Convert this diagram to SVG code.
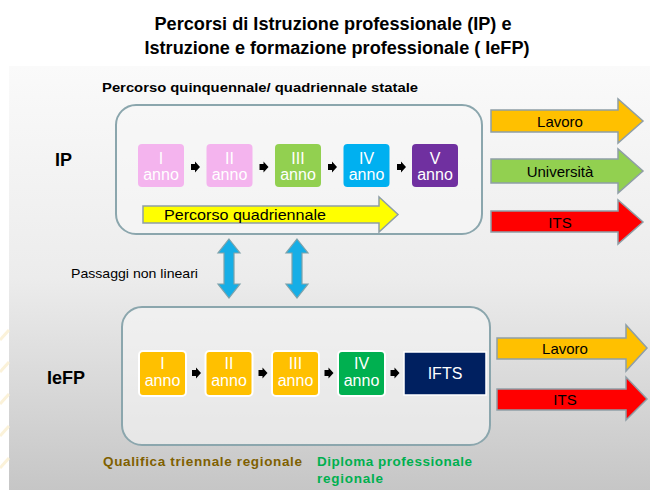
<svg xmlns="http://www.w3.org/2000/svg" width="658" height="490" viewBox="0 0 658 490">
<defs>
<linearGradient id="bg" x1="0" y1="0" x2="0" y2="1">
<stop offset="0" stop-color="#fafafa"/>
<stop offset="0.5" stop-color="#ececec"/>
<stop offset="1" stop-color="#c6c6c6"/>
</linearGradient>
<style>
.t{font-family:"Liberation Sans",Arial,sans-serif}
.b{font-weight:bold}
.yr{font-family:"Liberation Sans",Arial,sans-serif;font-size:16px;fill:#fff;text-anchor:middle}
.panel{fill:#f6f6f6;fill-opacity:0.6;stroke:#8ba6ad;stroke-width:2}
.out{stroke:#8f9ea6;stroke-width:1.5}
.lbl{font-family:"Liberation Sans",Arial,sans-serif;font-size:15px;fill:#000;text-anchor:middle}
.sm{fill:#000}
.dbl{fill:#16aee6;stroke:#7fa2aa;stroke-width:1.2}
</style>
</defs>
<rect x="0" y="0" width="658" height="490" fill="#fff"/>
<rect x="9" y="66" width="641" height="424" fill="url(#bg)"/>
<g stroke="#fbefd0" stroke-width="3" opacity="0.8">
<line x1="0" y1="340" x2="9" y2="330"/>
<line x1="0" y1="372" x2="9" y2="362"/>
<line x1="0" y1="404" x2="9" y2="394"/>
<line x1="0" y1="436" x2="9" y2="426"/>
<line x1="0" y1="468" x2="9" y2="458"/>
</g>

<g id="title">
<text class="t b" x="333" y="30" font-size="18" text-anchor="middle" textLength="357" lengthAdjust="spacingAndGlyphs">Percorsi di Istruzione professionale (IP) e</text>
<text class="t b" x="337" y="54" font-size="18" text-anchor="middle" textLength="385" lengthAdjust="spacingAndGlyphs">Istruzione e formazione professionale ( IeFP)</text>
</g>
<text id="subtitle" class="t b" x="102" y="92" font-size="13" textLength="316" lengthAdjust="spacingAndGlyphs">Percorso quinquennale/ quadriennale statale</text>

<g id="ip-panel">
<rect class="panel" x="116" y="105" width="366" height="129" rx="20"/>
</g>
<text id="ip-label" class="t b" x="55" y="166" font-size="18">IP</text>

<g id="ip-y1"><rect x="138" y="144" width="46" height="43" rx="4" fill="#f4b4ee"/><text class="yr" x="161" y="164">I</text><text class="yr" x="161" y="180">anno</text></g>
<g id="ip-y2"><rect x="206.5" y="144" width="46" height="43" rx="4" fill="#f4b4ee"/><text class="yr" x="229.5" y="164">II</text><text class="yr" x="229.5" y="180">anno</text></g>
<g id="ip-y3"><rect x="275" y="144" width="46" height="43" rx="4" fill="#92d050"/><text class="yr" x="298" y="164">III</text><text class="yr" x="298" y="180">anno</text></g>
<g id="ip-y4"><rect x="343.5" y="144" width="46" height="43" rx="4" fill="#00b0f0"/><text class="yr" x="366.5" y="164">IV</text><text class="yr" x="366.5" y="180">anno</text></g>
<g id="ip-y5"><rect x="412" y="144" width="46" height="43" rx="4" fill="#7030a0"/><text class="yr" x="435" y="164">V</text><text class="yr" x="435" y="180">anno</text></g>

<g id="quadriennale">
<path d="M143,206 H379 V197 L398,214.5 L379,232 V223 H143 Z" fill="#ffff00" class="out"/>
<text class="t" x="164" y="219.5" font-size="15" textLength="162" lengthAdjust="spacingAndGlyphs">Percorso quadriennale</text>
</g>

<g id="ip-lavoro"><path d="M491,110 H618 V99 L643,121 L618,143 V132 H491 Z" fill="#ffc000" class="out"/><text class="lbl" x="560" y="126.5">Lavoro</text></g>
<g id="ip-universita"><path d="M491,159 H618 V149 L643,171 L618,193 V183 H491 Z" fill="#92d050" class="out"/><text class="lbl" x="560" y="176.5">Università</text></g>
<g id="ip-its"><path d="M491,211 H618 V200 L643,222 L618,244 V232 H491 Z" fill="#ff0000" class="out"/><text class="lbl" x="560" y="227.5">ITS</text></g>

<text id="passaggi" class="t" x="71" y="278" font-size="13.5" textLength="127" lengthAdjust="spacingAndGlyphs">Passaggi non lineari</text>

<g id="iefp-panel">
<rect class="panel" x="122" y="307" width="368" height="138" rx="20"/>
</g>
<text id="iefp-label" class="t b" x="47" y="384" font-size="18">IeFP</text>

<g id="iefp-y1"><rect x="139" y="351" width="47" height="45" rx="4" fill="#ffc000" stroke="#fff" stroke-width="2"/><text class="yr" x="162.5" y="369">I</text><text class="yr" x="162.5" y="386">anno</text></g>
<g id="iefp-y2"><rect x="205.5" y="351" width="47" height="45" rx="4" fill="#ffc000" stroke="#fff" stroke-width="2"/><text class="yr" x="229" y="369">II</text><text class="yr" x="229" y="386">anno</text></g>
<g id="iefp-y3"><rect x="272" y="351" width="47" height="45" rx="4" fill="#ffc000" stroke="#fff" stroke-width="2"/><text class="yr" x="295.5" y="369">III</text><text class="yr" x="295.5" y="386">anno</text></g>
<g id="iefp-y4"><rect x="338" y="351" width="47" height="45" rx="4" fill="#00b050" stroke="#fff" stroke-width="2"/><text class="yr" x="361.5" y="369">IV</text><text class="yr" x="361.5" y="386">anno</text></g>
<g id="iefp-ifts"><rect x="404" y="352" width="82" height="43" fill="#002060" stroke="#fff" stroke-width="1.5"/><text class="yr" x="445" y="379">IFTS</text></g>

<g id="iefp-lavoro"><path d="M497,338 H626 V325 L647,348 L626,371 V359 H497 Z" fill="#ffc000" class="out"/><text class="lbl" x="565" y="354">Lavoro</text></g>
<g id="iefp-its"><path d="M497,389 H626 V377 L647,399 L626,420 V410 H497 Z" fill="#ff0000" class="out"/><text class="lbl" x="565" y="404.5">ITS</text></g>

<g id="connectors">
<path class="sm" d="M191,164 H195 V161.5 L200,167 L195,172.5 V170 H191 Z"/>
<path class="sm" d="M259.5,164 H263.5 V161.5 L268.5,167 L263.5,172.5 V170 H259.5 Z"/>
<path class="sm" d="M328,164 H332 V161.5 L337,167 L332,172.5 V170 H328 Z"/>
<path class="sm" d="M397,164 H401 V161.5 L406,167 L401,172.5 V170 H397 Z"/>
<path class="sm" d="M192,370 H196 V367.5 L201,373 L196,378.5 V376 H192 Z"/>
<path class="sm" d="M258.5,370 H262.5 V367.5 L267.5,373 L262.5,378.5 V376 H258.5 Z"/>
<path class="sm" d="M324.5,370 H328.5 V367.5 L333.5,373 L328.5,378.5 V376 H324.5 Z"/>
<path class="sm" d="M390.5,370 H394.5 V367.5 L399.5,373 L394.5,378.5 V376 H390.5 Z"/>
<path class="dbl" d="M229,239 L240,253 H234 V284 H240 L229,298 L218,284 H224 V253 H218 Z"/>
<path class="dbl" d="M297,239 L308,253 H302 V284 H308 L297,298 L286,284 H292 V253 H286 Z"/>
</g>

<text id="qualifica" class="t b" x="103" y="466" font-size="13.5" fill="#7f6000" textLength="199" lengthAdjust="spacing">Qualifica triennale regionale</text>
<g id="diploma">
<text class="t b" x="317" y="466" font-size="13.5" fill="#00b050" textLength="155" lengthAdjust="spacing">Diploma professionale</text>
<text class="t b" x="317" y="483" font-size="13.5" fill="#00b050" textLength="66" lengthAdjust="spacing">regionale</text>
</g>
</svg>
